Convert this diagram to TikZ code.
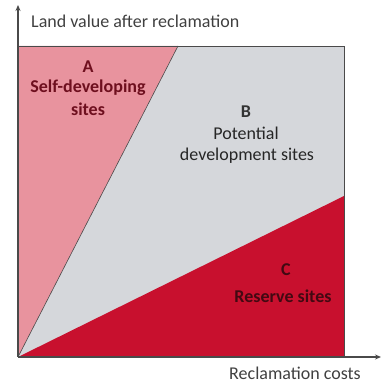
\documentclass[tikz,border=0pt]{standalone}
\usepackage{fontspec}
\setmainfont{Carlito}
\usetikzlibrary{arrows.meta}
\definecolor{selfpink}{HTML}{E8939E}
\definecolor{potgray}{HTML}{D5D7DB}
\definecolor{reservered}{HTML}{C8102E}
\definecolor{axisgray}{HTML}{4A4A4A}
\definecolor{darkred}{HTML}{6E0F1E}
\tikzstyle{axis}=[draw=axisgray, line width=1.2pt, -{Stealth[length=6pt,width=5pt]}]
\tikzstyle{label}=[font=\fontsize{18}{20}\selectfont, inner sep=0pt]
\tikzstyle{boldlabel}=[inner sep=0pt, font=\fontsize{18}{20}\selectfont\bfseries]

\begin{document}
\begin{tikzpicture}[x=1pt,y=1pt]
\useasboundingbox (0,0) rectangle (382,383);

\coordinate (o) at (18,26);
\coordinate (tl) at (18,337);
\coordinate (tr) at (344,337);
\coordinate (br) at (344,26);
\coordinate (a) at (178,337);
\coordinate (c) at (344,187);
\coordinate (ytop) at (18,378);
\coordinate (xend) at (381,26);

% the three zones
\fill [potgray] (o) -- (tl) -- (tr) -- (br) -- cycle;
\fill [selfpink] (o) -- (tl) -- (a) -- cycle;
\fill [reservered] (o) -- (c) -- (br) -- cycle;
\draw [axisgray, line width=0.6pt] (o) -- (a);
\draw [axisgray, line width=0.8pt] (tl) -- (tr) -- (br);

% axes
\draw [axis] (o) -- (ytop);
\draw [axis] (o) -- (xend);

\node (ylabel) [label, black!75, anchor=west] at (31,362) {Land value after reclamation};
\node (xlabel) [label, black!75] at (295,10) {Reclamation costs};

\node (na) [boldlabel, darkred] at (88,316) {A};
\node (sa) [boldlabel, darkred] at (88,295) {Self-developing};
\node (sa2) [boldlabel, darkred] at (88,274) {sites};

\node (nb) [boldlabel, black!80] at (246,271) {B};
\node (sb) [label, black!85] at (246,250) {Potential};
\node (sb2) [label, black!85] at (247,227) {development sites};

\node (nc) [boldlabel, darkred!60!black] at (286,113) {C};
\node (sc) [boldlabel, darkred!60!black] at (283,87) {Reserve sites};

\end{tikzpicture}
\end{document}
